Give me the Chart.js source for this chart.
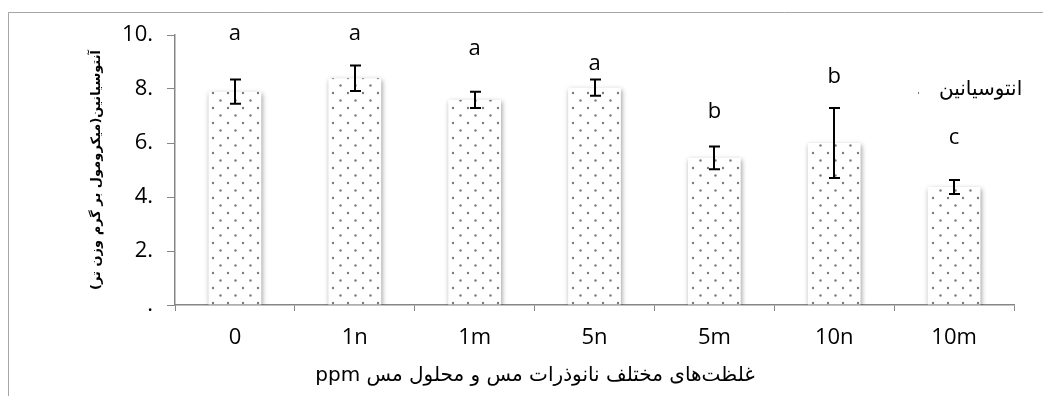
<!DOCTYPE html>
<html>
<head>
<meta charset="utf-8">
<script src="https://cdn.jsdelivr.net/npm/chart.js@4"></script>
<style>
    html, body { margin: 0; padding: 0; background: #fff; }
    #wrap { width: 1043px; height: 396px; position: relative; }
</style>
</head>
<body>
<div id="wrap"><canvas id="anthoChart"></canvas></div>
<script>
// تیمارها
const categories = ['0', '1n', '1m', '5n', '5m', '10n', '10m'];
// میانگین آنتوسیانین
const anthocyanin = [7.9, 8.4, 7.6, 8.05, 5.45, 6.0, 4.37];
// خطای استاندارد
const errors = [0.45, 0.47, 0.3, 0.3, 0.42, 1.3, 0.26];
// حروف معنی‌داری و ارتفاع آن‌ها روی محور
const letters = ['a', 'a', 'a', 'a', 'b', 'b', 'c'];
const letterHeights = [10.05, 10.05, 9.5, 8.95, 7.15, 8.45, 6.2];
const yTicks = [0, 2, 4, 6, 8, 10];

const seriesLabel = 'انتوسیانین';
const yTitle = 'آنتوسیانین(میکرومول بر گرم وزن تر)';
const xTitle = 'غلظت‌های مختلف نانوذرات مس و محلول مس ppm';

const RLE = '\u202B', PDF = '\u202C';
const latin = "'Open Sans', 'DejaVu Sans', sans-serif";
const arabic = "'DejaVu Sans', sans-serif";

// الگوی نقطه‌ای ستون‌ها
function dotPattern() {
    const tile = document.createElement('canvas');
    tile.width = 15;
    tile.height = 15;
    const c = tile.getContext('2d');
    c.fillStyle = '#fff';
    c.fillRect(0, 0, 15, 15);
    c.fillStyle = '#7a7a7a';
    [[3, 3], [10.5, 10.5]].forEach(([x, y]) => {
        c.beginPath();
        c.arc(x, y, 1.2, 0, Math.PI * 2);
        c.fill();
    });
    const ctx = document.getElementById('anthoChart').getContext('2d');
    return ctx.createPattern(tile, 'repeat');
}
const pattern = dotPattern();

// قاب دور نمودار
const framePlugin = {
    id: 'frame',
    beforeDraw(chart) {
        const ctx = chart.ctx;
        ctx.save();
        ctx.fillStyle = '#fff';
        ctx.fillRect(0, 0, chart.width, chart.height);
        ctx.strokeStyle = '#a6a6a6';
        ctx.lineWidth = 1;
        ctx.beginPath();
        ctx.moveTo(8.5, chart.height);
        ctx.lineTo(8.5, 12.5);
        ctx.lineTo(chart.width, 12.5);
        ctx.stroke();
        ctx.restore();
    }
};

// سایه ستون‌ها
const shadowPlugin = {
    id: 'barShadow',
    beforeDatasetsDraw(chart) {
        const ctx = chart.ctx;
        ctx.save();
        ctx.shadowColor = 'rgba(0,0,0,0.4)';
        ctx.shadowBlur = 5;
        ctx.shadowOffsetX = 1;
        ctx.shadowOffsetY = 2;
    },
    afterDatasetsDraw(chart) {
        chart.ctx.restore();
    }
};

// خطای استاندارد، حروف، راهنما و عنوان محور افقی
const extrasPlugin = {
    id: 'extras',
    afterDatasetsDraw(chart) {
        const ctx = chart.ctx;
        const x = chart.scales.x;
        const y = chart.scales.y;
        ctx.save();
        ctx.strokeStyle = '#000';
        ctx.lineWidth = 2;
        anthocyanin.forEach((v, i) => {
            const cx = Math.round(x.getPixelForValue(i));
            const top = y.getPixelForValue(v + errors[i]);
            const bot = y.getPixelForValue(v - errors[i]);
            ctx.beginPath();
            ctx.moveTo(cx, top);
            ctx.lineTo(cx, bot);
            ctx.moveTo(cx - 5, top);
            ctx.lineTo(cx + 6, top);
            ctx.moveTo(cx - 5, bot);
            ctx.lineTo(cx + 6, bot);
            ctx.stroke();
        });

        ctx.fillStyle = '#000';
        ctx.font = '22px ' + latin;
        ctx.textAlign = 'center';
        ctx.textBaseline = 'middle';
        letters.forEach((l, i) => {
            ctx.fillText(l, x.getPixelForValue(i), y.getPixelForValue(letterHeights[i]));
        });

        // راهنما
        const lx = 918, ly = 90;
        ctx.fillStyle = pattern;
        ctx.fillRect(lx, ly, 7, 7);
        ctx.fillStyle = '#000';
        ctx.font = '20px ' + arabic;
        ctx.textAlign = 'left';
        ctx.fillText(RLE + chart.data.datasets[0].label + PDF, 939, 90);

        // عنوان محور افقی
        ctx.font = '20px ' + arabic;
        ctx.textAlign = 'center';
        ctx.fillText(RLE + xTitle + PDF, 535, 376);
        ctx.restore();
    }
};

new Chart(document.getElementById('anthoChart'), {
    type: 'bar',
    data: {
        labels: categories,
        datasets: [{
            label: seriesLabel,
            data: anthocyanin,
            backgroundColor: pattern,
            borderWidth: 0,
            categoryPercentage: 1,
            barPercentage: 0.44
        }]
    },
    options: {
        responsive: true,
        maintainAspectRatio: false,
        animation: false,
        devicePixelRatio: 1,
        layout: { padding: { left: 86, top: 35, right: 29, bottom: 0 } },
        plugins: {
            legend: { display: false },
            tooltip: { enabled: false }
        },
        scales: {
            x: {
                offset: true,
                grid: {
                    offset: true,
                    drawOnChartArea: false,
                    tickLength: 6,
                    color: '#868686'
                },
                border: { color: '#868686', width: 1.5 },
                ticks: {
                    color: '#000',
                    padding: 14,
                    font: { family: latin, size: 22 }
                },
                afterFit: scale => { scale.height = 91; }
            },
            y: {
                min: 0,
                max: 10,
                afterBuildTicks: scale => {
                    scale.ticks = yTicks.map(v => ({ value: v }));
                },
                grid: {
                    drawOnChartArea: false,
                    tickLength: 8,
                    color: '#868686'
                },
                border: { color: '#868686', width: 1.5 },
                ticks: {
                    color: '#000',
                    padding: 14,
                    font: { family: latin, size: 22 },
                    callback: v => (v === 0 ? '.' : v + '.')
                },
                title: {
                    display: true,
                    text: RLE + yTitle + PDF,
                    color: '#000',
                    padding: { top: 3, bottom: 0 },
                    font: { family: arabic, size: 13, weight: 'bold' }
                },
                afterFit: scale => { scale.width = 89; }
            }
        }
    },
    plugins: [framePlugin, shadowPlugin, extrasPlugin]
});
</script>
</body>
</html>
